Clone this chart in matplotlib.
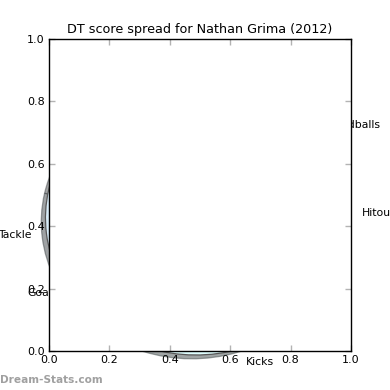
import matplotlib
matplotlib.use('Agg')
import matplotlib.pyplot as plt

# DT points per stat, in the order the wedges are drawn (counter-clockwise from 0)
labels = ['Hitouts', 'Handballs', 'Marks', 'Tackle', 'Goal', 'Kicks']
points = [12, 204, 288, 111, 30, 435]
colors = ['#e8f4ff', '#e6f7ff', '#eef8ff', '#d8ecf8', '#e4f6fb', '#e0ffff']

player = 'Nathan Grima'
season = 2012

fig = plt.figure(figsize=(3.9, 3.9), dpi=100)

# pie sits on a full-figure axes underneath, the plot axes covers most of it
ax_pie = fig.add_axes([0, 0, 1, 1])
ax_pie.pie(points, labels=labels, colors=colors, shadow=True, labeldistance=1.1,
           wedgeprops={'edgecolor': '0.35', 'linewidth': 0.9},
           textprops={'fontsize': 7.8})
ax_pie.set_aspect('auto')
ax_pie.set_xlim(-1.302, 1.2891)
ax_pie.set_ylim(-1.2555, 1.5912)
ax_pie.axis('off')

ax = fig.add_axes([0.125, 0.1, 0.775, 0.8])
ax.set_facecolor('white')
ax.set_xlim(0, 1)
ax.set_ylim(0, 1)
ax.set_xticks([0.0, 0.2, 0.4, 0.6, 0.8, 1.0])
ax.set_yticks([0.0, 0.2, 0.4, 0.6, 0.8, 1.0])
ax.set_xticklabels(['0.0', '0.2', '0.4', '0.6', '0.8', '1.0'])
ax.set_yticklabels(['0.0', '0.2', '0.4', '0.6', '0.8', '1.0'])
ax.tick_params(direction='in', top=True, right=True, length=4, width=1,
               color='0.7', labelsize=8, pad=3)
for s in ax.spines.values():
    s.set_linewidth(1.0)
ax.set_title(f'DT score spread for {player} ({season})', fontsize=9.2, pad=4)

fig.text(0.0, 0.012, 'Dream-Stats.com', fontsize=7.6, color='#a0a0a0',
         fontweight='bold', ha='left', va='bottom')

fig.savefig('out.png', dpi=100)
